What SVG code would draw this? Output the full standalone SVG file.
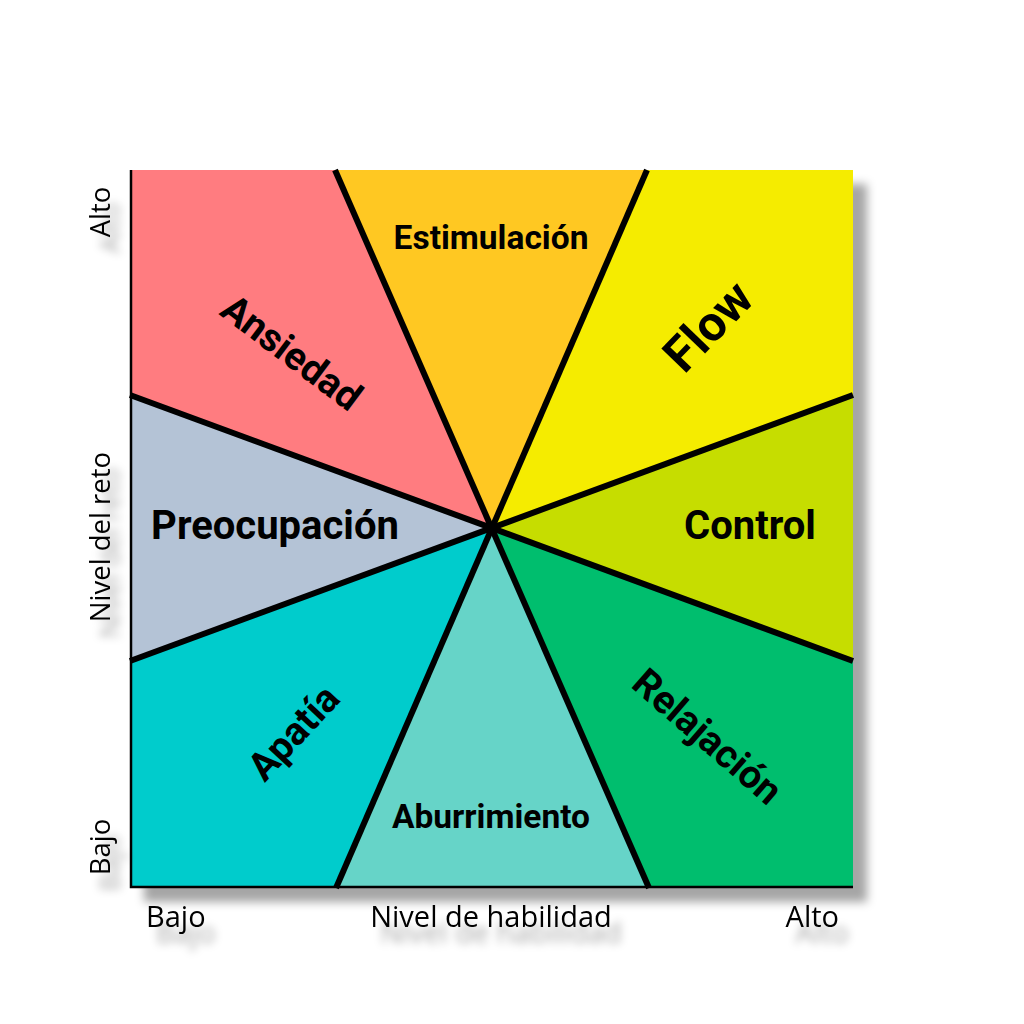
<svg xmlns="http://www.w3.org/2000/svg" width="1024" height="1024" viewBox="0 0 1024 1024">
<defs>
<filter id="sh" x="-20%" y="-20%" width="150%" height="160%">
<feGaussianBlur in="SourceAlpha" stdDeviation="5"/>
<feOffset dx="14" dy="14" result="b"/>
<feFlood flood-color="#000" flood-opacity="0.35"/>
<feComposite in2="b" operator="in"/>
<feMerge><feMergeNode/><feMergeNode in="SourceGraphic"/></feMerge>
</filter>
<filter id="tsh" x="-30%" y="-60%" width="160%" height="250%">
<feGaussianBlur in="SourceAlpha" stdDeviation="4"/>
<feOffset dx="10" dy="16" result="b"/>
<feFlood flood-color="#000" flood-opacity="0.35"/>
<feComposite in2="b" operator="in"/>
<feMerge><feMergeNode/><feMergeNode in="SourceGraphic"/></feMerge>
</filter>
</defs>
<style>
.lbl{font-family:Roboto,"Liberation Sans",sans-serif;font-weight:bold;fill:#000;text-anchor:middle}
.ax{font-family:"Open Sans","Noto Sans","Liberation Sans",sans-serif;font-size:29px;fill:#000}
.axv{font-family:"Open Sans","Noto Sans","Liberation Sans",sans-serif;font-size:27.5px;fill:#000;text-anchor:middle}
.div{stroke:#000;stroke-width:6;stroke-linecap:butt;fill:none}
.axis{stroke:#000;stroke-width:2.5;fill:none}
</style>
<rect width="1024" height="1024" fill="#fff"/>
<g id="chart" filter="url(#sh)">
<rect x="130" y="170" width="723" height="718" fill="#fff"/>
<polygon id="ansiedad-area" points="130,170 335,170 491,528 130,395" fill="#FF7B80"/>
<polygon id="estimulacion-area" points="335,170 647,170 491,528" fill="#FFC822"/>
<polygon id="flow-area" points="647,170 853,170 853,395 491,528" fill="#F5EC00"/>
<polygon id="control-area" points="853,395 853,661 491,528" fill="#C6DD00"/>
<polygon id="relajacion-area" points="853,661 853,888 649,888 491,528" fill="#00BE6E"/>
<polygon id="aburrimiento-area" points="649,888 336,888 491,528" fill="#66D4C8"/>
<polygon id="apatia-area" points="336,888 130,888 130,661 491,528" fill="#00CCCC"/>
<polygon id="preocupacion-area" points="130,661 130,395 491,528" fill="#B4C3D6"/>
</g>
<g id="connectors">
<line class="div" x1="335" y1="170" x2="649" y2="888"/>
<line class="div" x1="647" y1="170" x2="336" y2="888"/>
<line class="div" x1="130" y1="395" x2="853" y2="661"/>
<line class="div" x1="130" y1="661" x2="853" y2="395"/>
<polyline class="axis" points="131,170 131,887 853,887"/>
</g>
<g id="labels">
<text class="lbl" x="491" y="249" font-size="33.5">Estimulación</text>
<text class="lbl" x="491" y="828" font-size="33.5">Aburrimiento</text>
<text class="lbl" x="275" y="539" font-size="40">Preocupación</text>
<text class="lbl" x="750" y="539" font-size="40">Control</text>
<text class="lbl" font-size="39" transform="translate(292,352) rotate(37)" y="14">Ansiedad</text>
<text class="lbl" font-size="49" transform="translate(708,326) rotate(-46)" y="17">Flow</text>
<text class="lbl" font-size="39" transform="translate(293,732) rotate(-47)" y="14">Apatía</text>
<text class="lbl" font-size="39" transform="translate(708,736) rotate(41)" y="14">Relajación</text>
</g>
<g id="axis-labels" filter="url(#tsh)">
<text class="ax" x="146" y="927">Bajo</text>
<text class="ax" x="491" y="927" text-anchor="middle">Nivel de habilidad</text>
<text class="ax" x="839" y="927" text-anchor="end">Alto</text>
<text class="axv" transform="translate(110,212) rotate(-90)">Alto</text>
<text class="axv" transform="translate(110,537) rotate(-90)">Nivel del reto</text>
<text class="axv" transform="translate(110,847) rotate(-90)">Bajo</text>
</g>
</svg>
